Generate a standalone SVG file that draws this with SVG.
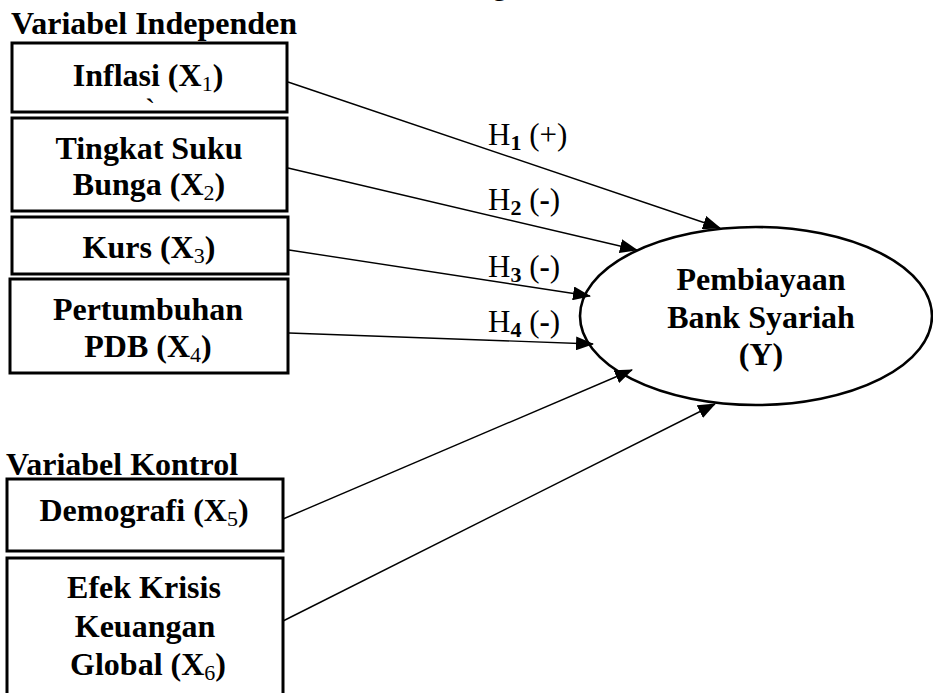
<svg xmlns="http://www.w3.org/2000/svg" width="933" height="693" viewBox="0 0 933 693">
<style>
  .box { fill: #fff; stroke: #000; stroke-width: 3; }
  .lbl { font-family: "Liberation Serif", "Times New Roman", serif; font-size: 32px; font-weight: bold; fill: #000; text-anchor: middle; }
  .hd { font-family: "Liberation Serif", "Times New Roman", serif; font-size: 32px; font-weight: bold; fill: #000; }
  .h { font-family: "Liberation Serif", "Times New Roman", serif; font-size: 31px; fill: #000; }
  .sub { font-size: 22px; }
  .conn line { stroke: #000; stroke-width: 1.4; marker-end: url(#arr); }
</style>
<defs>
  <marker id="arr" markerUnits="userSpaceOnUse" markerWidth="18" markerHeight="14" refX="17" refY="7" orient="auto">
    <path d="M0,0 L18,7 L0,14 Z" fill="#000"/>
  </marker>
</defs>
<rect width="933" height="693" fill="#fff"/>
<text class="h" x="492" y="-6">g</text>
<text class="hd" x="11" y="34">Variabel Independen</text>
<text class="hd" x="6" y="475">Variabel Kontrol</text>

<g id="conns" class="conn">
  <line x1="288" y1="82" x2="720" y2="228"/>
  <line x1="288" y1="168" x2="637" y2="250"/>
  <line x1="289" y1="250" x2="590" y2="296"/>
  <line x1="289" y1="333" x2="593" y2="344"/>
  <line x1="283" y1="519" x2="632" y2="370"/>
  <line x1="283" y1="621" x2="715" y2="404"/>
</g>

<g id="labels">
  <text class="h" x="488" y="145">H<tspan class="sub" font-weight="bold" dy="5">1</tspan><tspan dy="-5"> (+)</tspan></text>
  <text class="h" x="488" y="210">H<tspan class="sub" font-weight="bold" dy="5">2</tspan><tspan dy="-5"> (<tspan font-weight="bold">-</tspan>)</tspan></text>
  <text class="h" x="488" y="277">H<tspan class="sub" font-weight="bold" dy="5">3</tspan><tspan dy="-5"> (<tspan font-weight="bold">-</tspan>)</tspan></text>
  <text class="h" x="488" y="332">H<tspan class="sub" font-weight="bold" dy="5">4</tspan><tspan dy="-5"> (<tspan font-weight="bold">-</tspan>)</tspan></text>
</g>

<g id="x1">
  <rect class="box" x="12" y="43" width="275" height="69"/>
  <text class="lbl" x="148" y="86">Inflasi (X<tspan class="sub" font-weight="normal" dy="5">1</tspan><tspan dy="-5">)</tspan></text>
  <text class="h" x="145" y="120" font-size="14">`</text>
</g>
<g id="x2">
  <rect class="box" x="12" y="118" width="275" height="93"/>
  <text class="lbl" x="149" y="159">Tingkat Suku</text>
  <text class="lbl" x="149" y="195">Bunga (X<tspan class="sub" font-weight="normal" dy="5">2</tspan><tspan dy="-5">)</tspan></text>
</g>
<g id="x3">
  <rect class="box" x="12" y="217" width="276" height="57"/>
  <text class="lbl" x="149" y="258">Kurs (X<tspan class="sub" font-weight="normal" dy="5">3</tspan><tspan dy="-5">)</tspan></text>
</g>
<g id="x4">
  <rect class="box" x="10" y="279" width="278" height="94"/>
  <text class="lbl" x="148" y="320">Pertumbuhan</text>
  <text class="lbl" x="148" y="357">PDB (X<tspan class="sub" font-weight="normal" dy="5">4</tspan><tspan dy="-5">)</tspan></text>
</g>
<g id="x5">
  <rect class="box" x="7" y="479" width="276" height="72"/>
  <text class="lbl" x="144" y="521">Demografi (X<tspan class="sub" font-weight="normal" dy="5">5</tspan><tspan dy="-5">)</tspan></text>
</g>
<g id="x6">
  <rect class="box" x="7" y="558" width="276" height="145"/>
  <text class="lbl" x="144" y="598">Efek Krisis</text>
  <text class="lbl" x="145" y="637">Keuangan</text>
  <text class="lbl" x="148" y="675">Global (X<tspan class="sub" font-weight="normal" dy="5">6</tspan><tspan dy="-5">)</tspan></text>
</g>
<g id="y">
  <ellipse cx="756" cy="316" rx="176" ry="89" fill="none" stroke="#000" stroke-width="2.6"/>
  <text class="lbl" x="761" y="290">Pembiayaan</text>
  <text class="lbl" x="761" y="328">Bank Syariah</text>
  <text class="lbl" x="761" y="365">(Y)</text>
</g>
</svg>
